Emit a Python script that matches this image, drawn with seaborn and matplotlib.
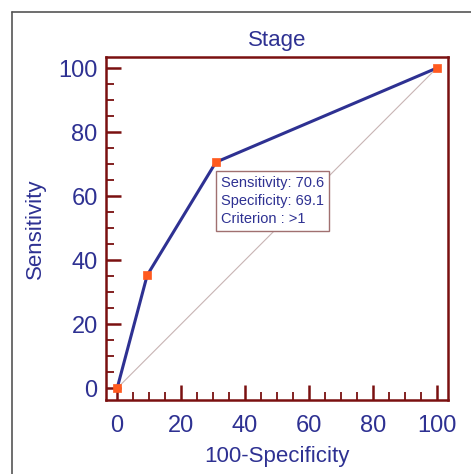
import pandas as pd
import matplotlib.pyplot as plt
import seaborn as sns
from matplotlib.ticker import MultipleLocator

# ROC points for Stage
fpr = [0, 9.4, 30.9, 100]          # 100-Specificity
sens = [0, 35.3, 70.6, 100]        # Sensitivity
ticks = [0, 20, 40, 60, 80, 100]

navy = "#2E3192"
dark_red = "#7A1010"

sns.set_style("white")
plt.rcParams['font.family'] = ['Liberation Sans', 'DejaVu Sans']

df = pd.DataFrame({'x': fpr, 'y': sens})

fig = plt.figure(figsize=(4.71, 4.74), dpi=100)
ax = fig.add_axes([0.225, 0.156, 0.726, 0.724])

# reference diagonal
sns.lineplot(x=[0, 100], y=[0, 100], ax=ax, color="#C8B4B4", linewidth=0.8)
sns.lineplot(data=df, x='x', y='y', ax=ax, color=navy, linewidth=2.2)
sns.scatterplot(data=df, x='x', y='y', ax=ax, marker='s', s=38,
                color="#FF5A1F", edgecolor="#FF5A1F", zorder=5)

ax.set_xlim(-3.5, 103.5)
ax.set_ylim(-3.7, 103.5)
ax.set_xticks(ticks)
ax.set_yticks(ticks)
ax.xaxis.set_minor_locator(MultipleLocator(5))
ax.yaxis.set_minor_locator(MultipleLocator(5))
ax.tick_params(which='major', direction='in', length=11, width=1.8,
               color=dark_red, labelcolor=navy, labelsize=17)
ax.tick_params(which='minor', direction='in', length=6, width=1.3,
               color=dark_red)
ax.tick_params(axis='x', which='both', bottom=True, pad=11)
ax.tick_params(axis='y', which='both', left=True, pad=6)
for s in ax.spines.values():
    s.set_color(dark_red)
    s.set_linewidth(1.8)

ax.set_title("Stage", color=navy, fontsize=16, pad=8)
ax.set_xlabel("100-Specificity", color=navy, fontsize=16, labelpad=6)
ax.set_ylabel("Sensitivity", color=navy, fontsize=16, labelpad=9)

ax.text(32.5, 66.3, "Sensitivity: 70.6\nSpecificity: 69.1\nCriterion : >1",
        color=navy, fontsize=10.5, va='top', ha='left', linespacing=1.35,
        bbox=dict(boxstyle='square,pad=0.35', facecolor='white',
                  edgecolor='#A07070', linewidth=1.0))

# outer frame lines
fig.add_artist(plt.Line2D([12 / 471, 12 / 471], [0, 1 - 12 / 474],
                          color="#555555", linewidth=1.2))
fig.add_artist(plt.Line2D([12 / 471, 1], [1 - 12 / 474, 1 - 12 / 474],
                          color="#555555", linewidth=1.2))

fig.savefig("out.png", dpi=100)
